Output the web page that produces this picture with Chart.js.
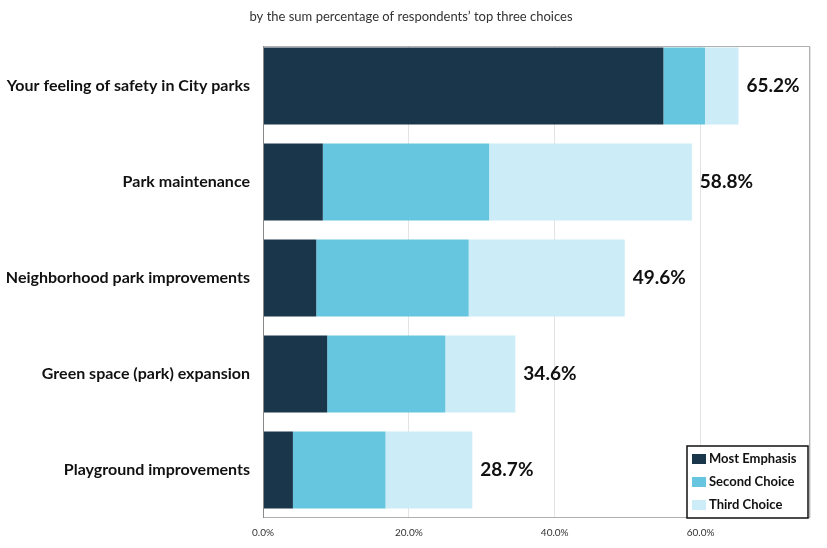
<!DOCTYPE html>
<html>
<head>
<meta charset="utf-8">
<script src="https://cdn.jsdelivr.net/npm/chart.js@4"></script>
<style>
  html, body { margin: 0; padding: 0; background: #fff; }
  #wrap { width: 827px; height: 548px; }
</style>
</head>
<body>
<div id="wrap"><canvas id="park-chart" width="827" height="548"></canvas></div>
<script>
var categories = [
    'Your feeling of safety in City parks',
    'Park maintenance',
    'Neighborhood park improvements',
    'Green space (park) expansion',
    'Playground improvements'
];
var mostEmphasis = [54.9, 8.2, 7.3, 8.8, 4.1];
var secondChoice = [5.7, 22.8, 20.9, 16.2, 12.7];
var thirdChoice = [4.6, 27.8, 21.4, 9.6, 11.9];
var totals = [65.2, 58.8, 49.6, 34.6, 28.7];
var xTicks = [0, 20, 40, 60];

var subtitleText = 'by the sum percentage of respondents\u2019 top three choices';
var labelFont = 'Lato, "Open Sans", sans-serif';
var frameTop = 47;

// title line at top
var titlePlugin = {
    id: 'topTitle',
    afterDraw: function (chart) {
        var ctx = chart.ctx;
        ctx.save();
        ctx.font = '13px ' + labelFont;
        ctx.fillStyle = '#333';
        ctx.textAlign = 'center';
        ctx.textBaseline = 'middle';
        ctx.fillText(subtitleText, 411, 17);
        ctx.restore();
    }
};

// grey frame round the plot (top edge sits a little below the category band)
var framePlugin = {
    id: 'frame',
    afterDatasetsDraw: function (chart) {
        var a = chart.chartArea, ctx = chart.ctx;
        ctx.save();
        ctx.fillStyle = '#fff';
        ctx.fillRect(a.left - 1, a.top - 2, a.right - a.left + 3, frameTop - a.top + 1.5);
        ctx.strokeStyle = '#b0b0b0';
        ctx.lineWidth = 1;
        ctx.strokeRect(a.left + 0.5, frameTop - 0.5, a.right - a.left - 1, a.bottom - frameTop);
        ctx.strokeStyle = '#8a8a8a';
        ctx.beginPath();
        ctx.moveTo(a.left + 0.5, frameTop - 1);
        ctx.lineTo(a.left + 0.5, a.bottom);
        ctx.stroke();
        ctx.restore();
    }
};

// total value next to each bar
var totalsPlugin = {
    id: 'totals',
    afterDatasetsDraw: function (chart) {
        var ctx = chart.ctx;
        var x = chart.scales.x;
        ctx.save();
        ctx.font = 'bold 19px ' + labelFont;
        ctx.fillStyle = '#111';
        ctx.textAlign = 'left';
        ctx.textBaseline = 'middle';
        totals.forEach(function (t, i) {
            var bar = chart.getDatasetMeta(2).data[i];
            ctx.fillText(t.toFixed(1) + '%', x.getPixelForValue(t) + 8, bar.y);
        });
        ctx.restore();
    }
};

// legend box inside the plot, lower right
var legendPlugin = {
    id: 'boxLegend',
    afterDraw: function (chart) {
        var ctx = chart.ctx;
        var a = chart.chartArea;
        var w = 121, h = 72;
        var left = a.right - w - 2, top = a.bottom - h;
        ctx.save();
        ctx.fillStyle = '#fff';
        ctx.fillRect(left, top, w, h);
        ctx.strokeStyle = '#111';
        ctx.lineWidth = 1.5;
        ctx.strokeRect(left, top, w, h);
        ctx.font = 'bold 13px ' + labelFont;
        ctx.textBaseline = 'middle';
        chart.data.datasets.forEach(function (ds, i) {
            var cy = top + 13 + i * 23;
            ctx.fillStyle = ds.backgroundColor;
            ctx.fillRect(left + 5, cy - 5, 14, 10);
            ctx.fillStyle = '#111';
            ctx.fillText(ds.label, left + 22, cy);
        });
        ctx.restore();
    }
};

var config = {
    type: 'bar',
    data: {
        labels: categories,
        datasets: [{
            label: 'Most Emphasis',
            data: mostEmphasis,
            backgroundColor: '#1a364b'
        }, {
            label: 'Second Choice',
            data: secondChoice,
            backgroundColor: '#67c6df'
        }, {
            label: 'Third Choice',
            data: thirdChoice,
            backgroundColor: '#ccedf7'
        }]
    },
    options: {
        indexAxis: 'y',
        responsive: false,
        animation: false,
        layout: { padding: { top: 38, right: 17, left: 0, bottom: 0 } },
        datasets: { bar: { barPercentage: 0.80, categoryPercentage: 1.0, borderWidth: 0 } },
        plugins: {
            legend: { display: false },
            tooltip: { enabled: false }
        },
        scales: {
            x: {
                stacked: true,
                min: 0,
                max: 75,
                afterBuildTicks: function (scale) {
                    scale.ticks = xTicks.concat([75]).map(function (v) { return { value: v }; });
                },
                afterFit: function (scale) { scale.height = 30; },
                grid: { color: '#e3e3e3', drawTicks: false },
                border: { display: false },
                ticks: {
                    padding: 9,
                    color: '#333',
                    font: { size: 10, family: labelFont },
                    callback: function (v) {
                        return xTicks.indexOf(v) >= 0 ? v.toFixed(1) + '%' : '';
                    }
                }
            },
            y: {
                stacked: true,
                afterFit: function (scale) { scale.width = 263; },
                grid: { display: false, drawTicks: false },
                border: { display: false },
                ticks: {
                    padding: 13,
                    color: '#111',
                    font: { size: 16, weight: 'bold', family: labelFont }
                }
            }
        }
    },
    plugins: [titlePlugin, framePlugin, totalsPlugin, legendPlugin]
};

window.onload = function () {
    var ctx = document.getElementById('park-chart').getContext('2d');
    window.parkChart = new Chart(ctx, config);
};
</script>
</body>
</html>
